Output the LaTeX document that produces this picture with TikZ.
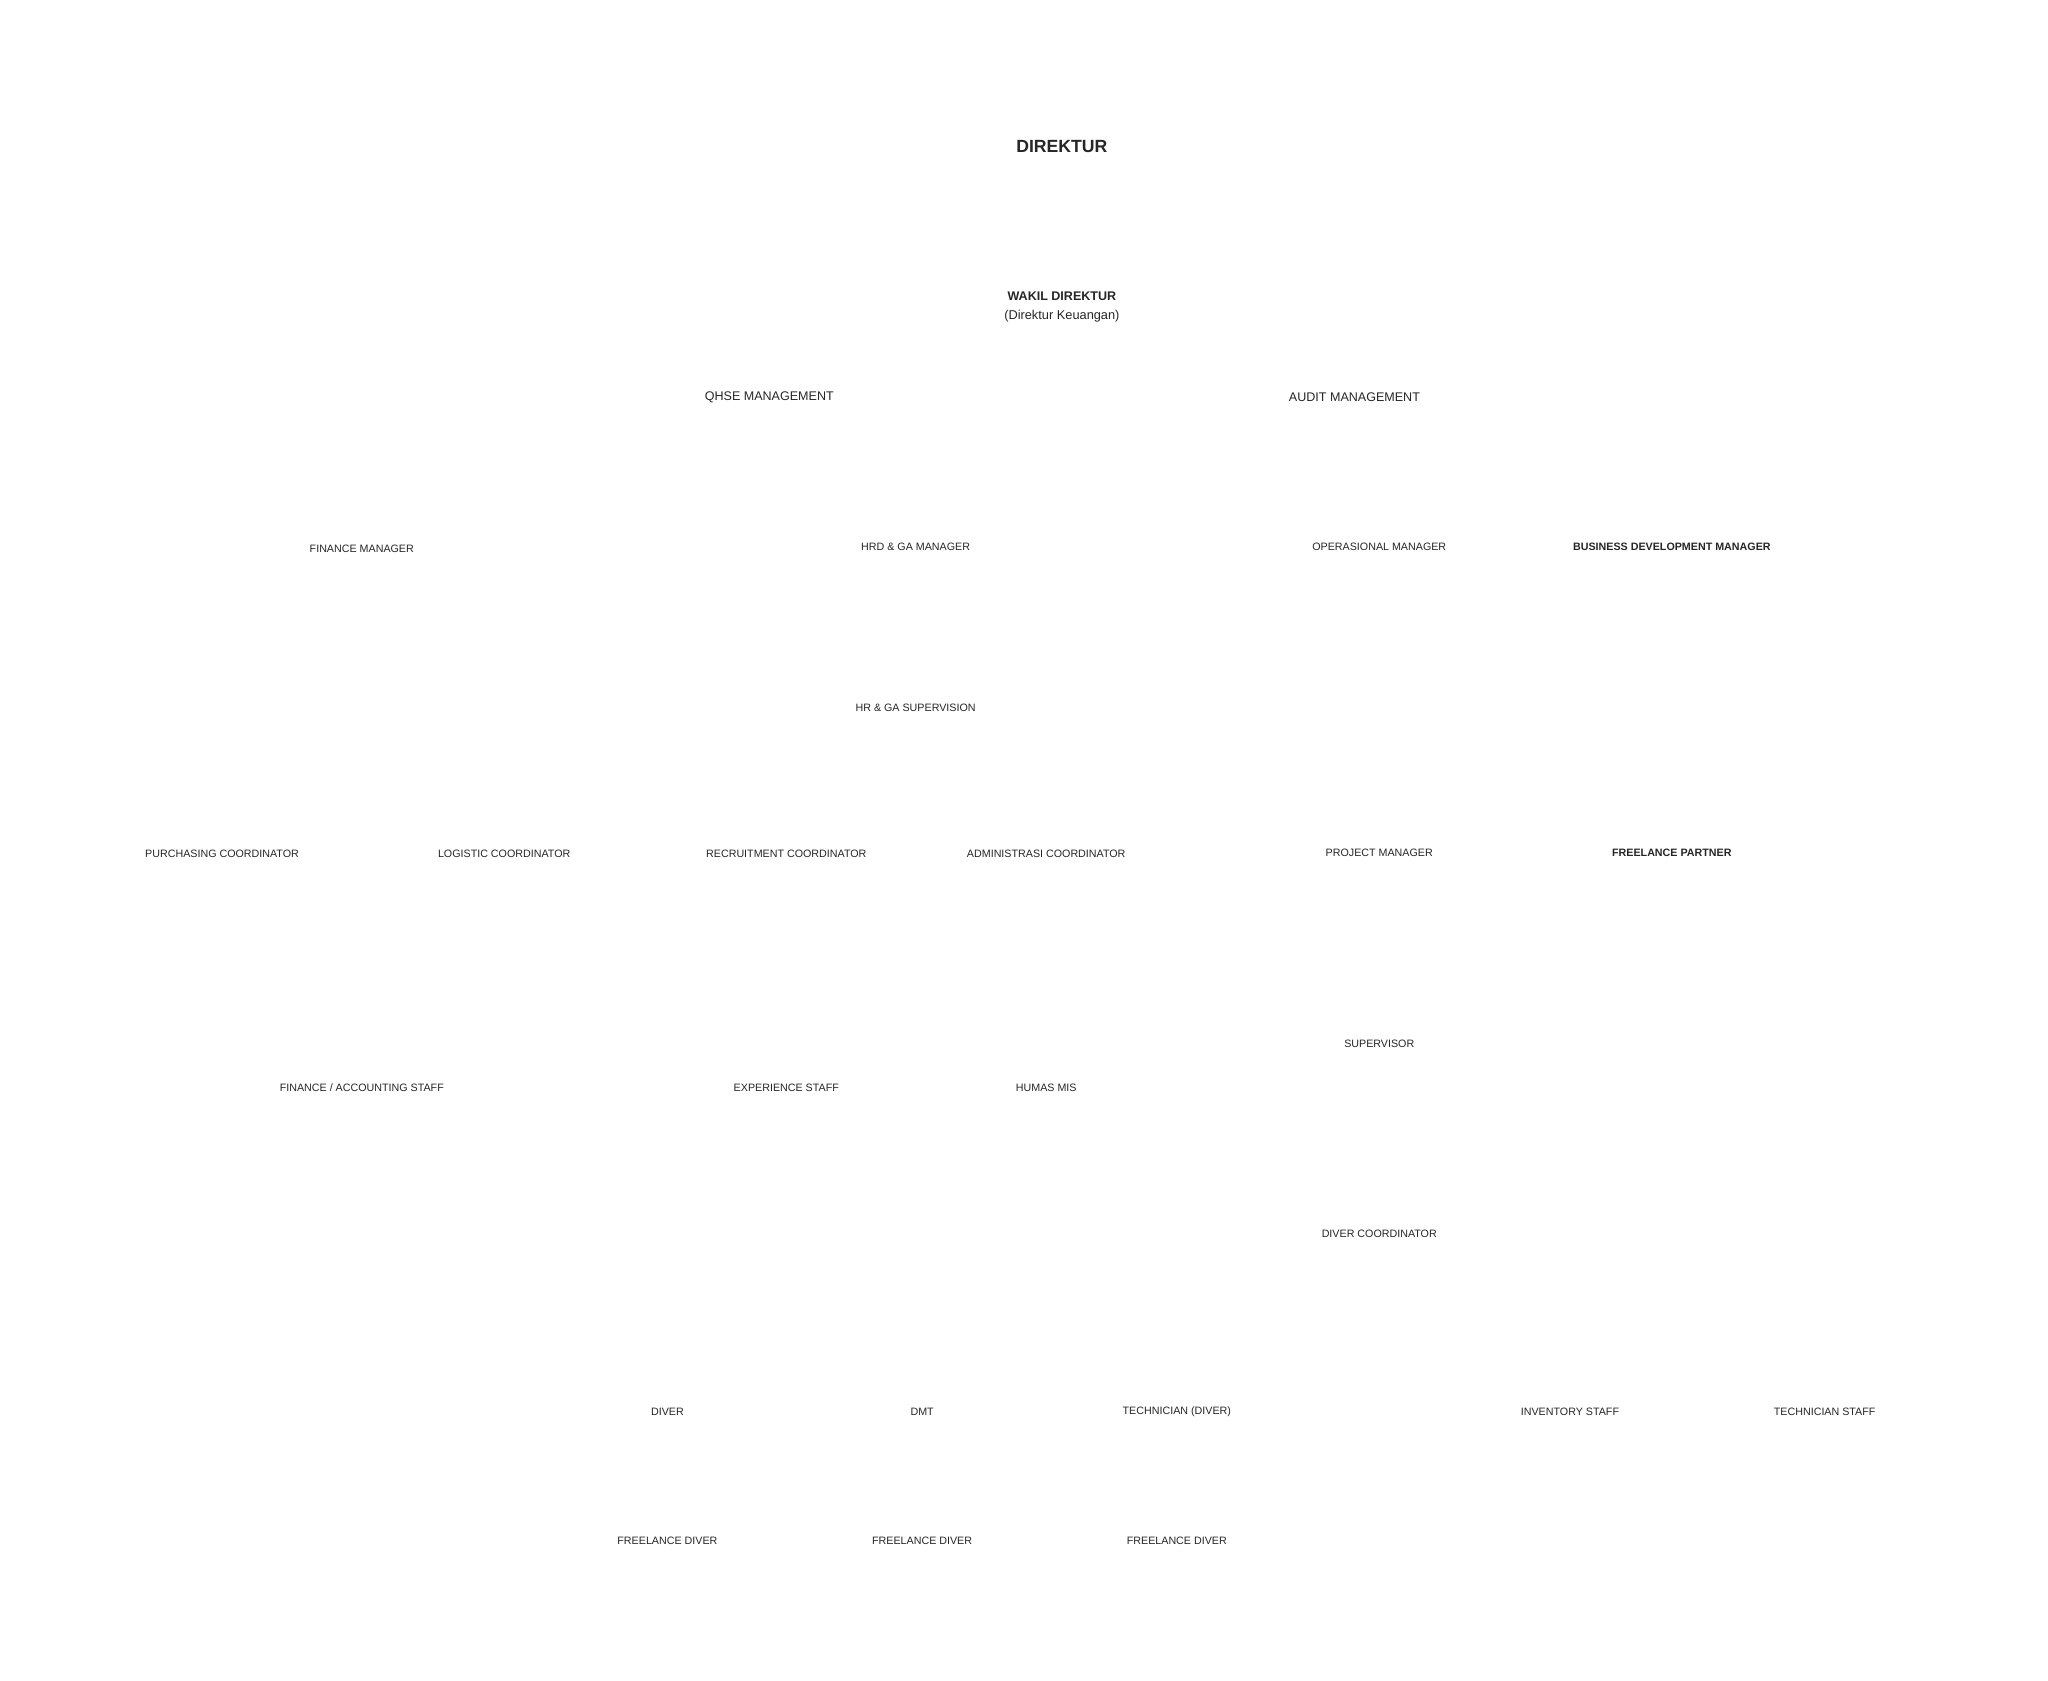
\documentclass[tikz,border=0pt]{standalone}
\usepackage{fontspec}
\setmainfont{Liberation Sans}
\definecolor{txtgray}{rgb}{0.15,0.15,0.15}
\tikzset{
  role/.style={font=\fontsize{8.2}{9}\selectfont, text=txtgray, inner sep=0pt},
  rolebold/.style={role, font=\fontsize{8.2}{9}\selectfont\bfseries},
  mid/.style={font=\fontsize{9.6}{11}\selectfont, text=txtgray, inner sep=0pt},
}
\begin{document}
\begin{tikzpicture}[x=1pt,y=-1pt]
		\useasboundingbox (0,0) rectangle (1568,1287);
		% top
		\node[font=\fontsize{13.5}{15}\selectfont\bfseries, text=txtgray] (direktur) at (813,112) {DIREKTUR};
		\node[mid, font=\fontsize{9.6}{11}\selectfont\bfseries] (wakil) at (813,227) {WAKIL DIREKTUR};
		\node[mid, font=\fontsize{9.8}{11}\selectfont] (keuangan) at (813,242) {(Direktur Keuangan)};
		\node[mid] (qhse) at (589,304) {QHSE MANAGEMENT};
		\node[mid] (audit) at (1037,304) {AUDIT MANAGEMENT};
		% managers
		\node[role] (finmgr) at (277,420) {FINANCE MANAGER};
		\node[role] (hrdmgr) at (701,419) {HRD \& GA MANAGER};
		\node[role] (opsmgr) at (1056,419) {OPERASIONAL MANAGER};
		\node[rolebold] (bizmgr) at (1280,419) {BUSINESS DEVELOPMENT MANAGER};
		\node[role] (hrsup) at (701,542) {HR \& GA SUPERVISION};
		% coordinators
		\node[role] (purchase) at (170,654) {PURCHASING COORDINATOR};
		\node[role] (logistic) at (386,654) {LOGISTIC COORDINATOR};
		\node[role] (recruit) at (602,654) {RECRUITMENT COORDINATOR};
		\node[role] (admin) at (801,654) {ADMINISTRASI COORDINATOR};
		\node[role] (projmgr) at (1056,653) {PROJECT MANAGER};
		\node[rolebold] (partner) at (1280,653) {FREELANCE PARTNER};
		\node[role] (supervisor) at (1056,799) {SUPERVISOR};
		% staff
		\node[role] (finstaff) at (277,833) {FINANCE / ACCOUNTING STAFF};
		\node[role] (expstaff) at (602,833) {EXPERIENCE STAFF};
		\node[role] (humas) at (801,833) {HUMAS MIS};
		\node[role] (divcoord) at (1056,945) {DIVER COORDINATOR};
		\node[role] (diver) at (511,1081) {DIVER};
		\node[role] (dmt) at (706,1081) {DMT};
		\node[role] (techdiver) at (901,1081) {TECHNICIAN (DIVER)};
		\node[role] (inventory) at (1202,1081) {INVENTORY STAFF};
		\node[role] (techstaff) at (1397,1081) {TECHNICIAN STAFF};
		\foreach \x/\n in {511/fdiverA,706/fdiverB,901/fdiverC}
			\node[role] (\n) at (\x,1180) {FREELANCE DIVER};
	\end{tikzpicture}
\end{document}
